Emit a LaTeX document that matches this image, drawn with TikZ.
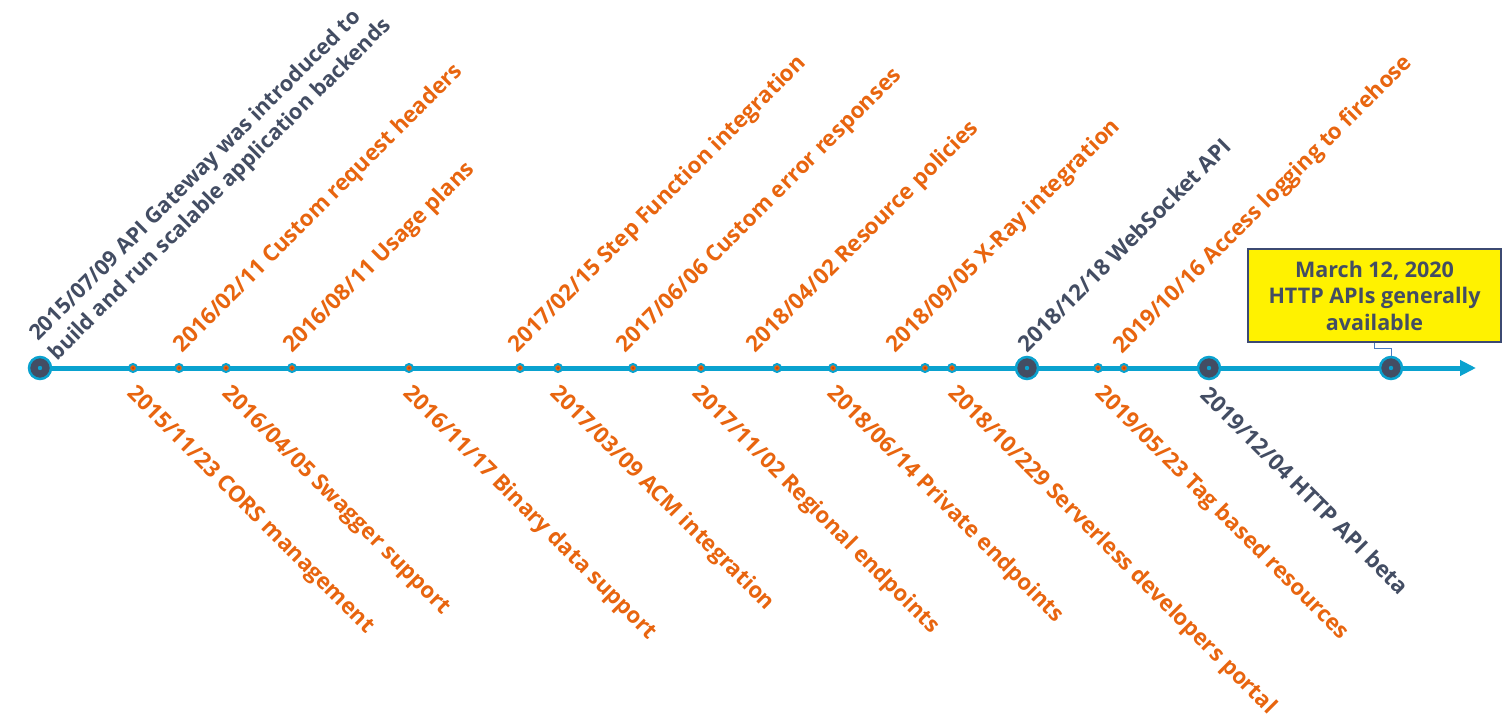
\documentclass[tikz,border=0pt]{standalone}
\usepackage{fontspec}
\setmainfont{Open Sans}
\usetikzlibrary{arrows.meta}
\definecolor{aorange}{HTML}{E8650F}
\definecolor{adot}{HTML}{C8480A}
\definecolor{slate}{HTML}{434D63}
\definecolor{acyan}{HTML}{0AA2CF}
\definecolor{boxline}{HTML}{3C4A72}
\definecolor{linkline}{HTML}{4A7CC4}
\begin{document}
\begin{tikzpicture}[x=1pt,y=-1pt,
  lbl/.style={font=\bfseries\fontsize{22.3}{27}\selectfont, inner sep=0pt, anchor=base west},
  uplbl/.style={lbl, rotate=45},
  downlbl/.style={lbl, rotate=-45},
  bigdot/.style={circle, fill=slate, draw=acyan, line width=2.5pt, minimum size=22pt, inner sep=0pt},
  smalldot/.style={circle, fill=aorange, draw=acyan, line width=2pt, minimum size=8pt, inner sep=0pt},
  axis/.style={acyan, line width=5pt, -{Triangle[length=16pt,width=15pt]}},
  callout/.style={draw=boxline, line width=1.2pt, fill=yellow, text=slate, align=center,
    font=\bfseries\fontsize{21.5}{26.5}\selectfont, minimum width=253pt, minimum height=93pt, inner sep=0pt},
  link/.style={linkline, line width=1pt}
]
\useasboundingbox (0,0) rectangle (1511,719);
\coordinate (start) at (40,368);
\coordinate (tip) at (1476,368);
\draw[axis] (start) -- (tip);

% big dots
\foreach \n/\x in {d0/40, d12/1027, d17/1209, d18/1391}{
  \node[bigdot] (\n) at (\x,368) {};
  \fill[acyan] (\n.center) circle (2.2pt);
}
% small dots
\foreach \n/\x in {d1/133, d2/179, d3/226, d4/292, d5/409, d6/520, d7/558, d8/633, d9/701, d10/777, d11/833, d13/925, d14/952, d15/1098, d16/1124}{
  \node[smalldot] (\n) at (\x,368) {};
  \fill[adot] (\n.center) circle (1.5pt);
}

% upper labels
\node[lbl, rotate=45, anchor=south west, align=left, text=slate,
  font=\bfseries\fontsize{21.6}{27}\selectfont] (l0) at (61,365)
  {2015/07/09 API Gateway was introduced to\\build and run scalable application backends};
\node[uplbl, text=aorange] (l2) at (182,354) {2016/02/11 Custom request headers};
\node[uplbl, text=aorange] (l4) at (292,354) {2016/08/11 Usage plans};
\node[uplbl, text=aorange] (l6) at (517,354) {2017/02/15 Step Function integration};
\node[uplbl, text=aorange] (l8) at (625,354) {2017/06/06 Custom error responses};
\node[uplbl, text=aorange] (l10) at (755,354) {2018/04/02 Resource policies};
\node[uplbl, text=aorange] (l13) at (895,354) {2018/09/05 X-Ray integration};
\node[uplbl, text=slate] (l12) at (1027,354) {2018/12/18 WebSocket API};
\node[uplbl, text=aorange] (l16) at (1122,355) {2019/10/16 Access logging to firehose};

% lower labels
\node[downlbl, text=aorange] (l1) at (126,394) {2015/11/23 CORS management};
\node[downlbl, text=aorange] (l3) at (221,394) {2016/04/05 Swagger support};
\node[downlbl, text=aorange] (l5) at (402,394) {2016/11/17 Binary data support};
\node[downlbl, text=aorange] (l7) at (549,394) {2017/03/09 ACM integration};
\node[downlbl, text=aorange] (l9) at (691,394) {2017/11/02 Regional endpoints};
\node[downlbl, text=aorange] (l11) at (826,394) {2018/06/14 Private endpoints};
\node[downlbl, text=aorange] (l14) at (947,394) {2018/10/229 Serverless developers portal};
\node[downlbl, text=aorange] (l15) at (1094,394) {2019/05/23 Tag based resources};
\node[downlbl, text=slate] (l17) at (1199,396) {2019/12/04 HTTP API beta};

% callout
\node[callout] (cb) at (1374.5,295.5) {March 12, 2020\\HTTP APIs generally\\available};
\draw[link] (cb.south) -- ++(0,6) -| (d18.north);
\end{tikzpicture}
\end{document}
